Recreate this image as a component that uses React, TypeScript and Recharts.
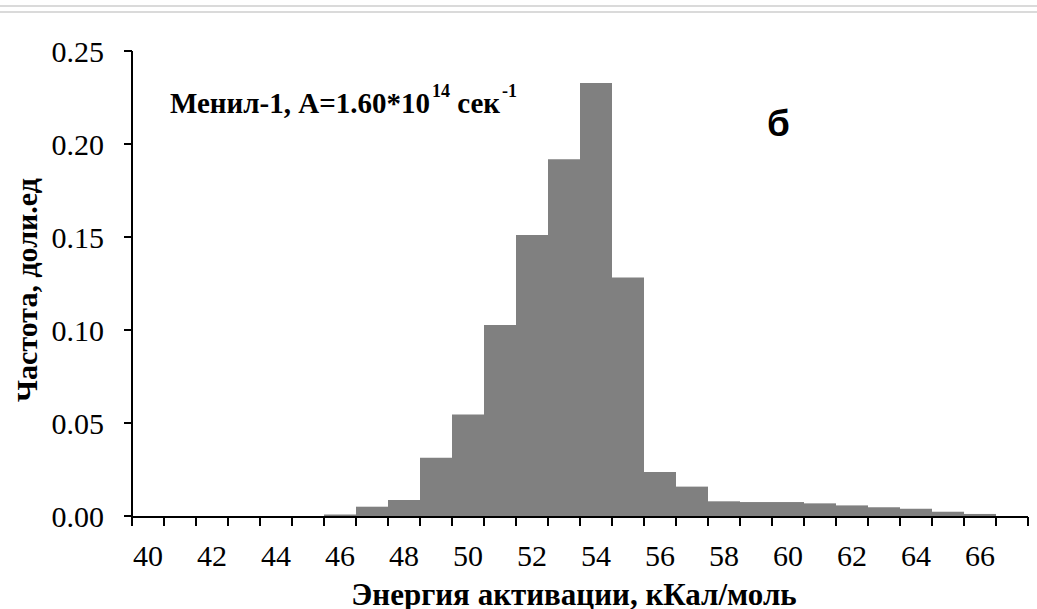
import React from 'react';
import { BarChart, Bar, XAxis, YAxis, ReferenceLine } from 'recharts';

// Energy bins (kcal/mol), one bar per bin
const energies = [40, 41, 42, 43, 44, 45, 46, 47, 48, 49, 50, 51, 52, 53, 54, 55, 56, 57, 58, 59, 60, 61, 62, 63, 64, 65, 66, 67];
// Frequency (fraction) per bin
const frequencies = [0, 0, 0, 0, 0, 0, 0.0008, 0.005, 0.0086, 0.0313, 0.0546, 0.1027, 0.1511, 0.1918, 0.2328, 0.1282, 0.0236, 0.0158, 0.0079, 0.0075, 0.0075, 0.0068, 0.0057, 0.0047, 0.0039, 0.0023, 0.0011, 0];
// Bin edges where the axis tick marks sit
const binEdges = [39.5, 40.5, 41.5, 42.5, 43.5, 44.5, 45.5, 46.5, 47.5, 48.5, 49.5, 50.5, 51.5, 52.5, 53.5, 54.5, 55.5, 56.5, 57.5, 58.5, 59.5, 60.5, 61.5, 62.5, 63.5, 64.5, 65.5, 66.5, 67.5];
const yTicks = [0, 0.05, 0.1, 0.15, 0.2, 0.25];

const data = energies.map((e, i) => ({ e, f: frequencies[i] }));

const serif = '"Liberation Serif", "Times New Roman", serif';

export default function App() {
  return (
    <div style={{ position: 'absolute', left: 0, top: 0, width: 1037, height: 609, background: '#fff', overflow: 'hidden' }}>
      <div style={{ position: 'absolute', left: 0, top: 5, width: 1037, height: 2, background: '#dadada' }} />
      <div style={{ position: 'absolute', left: 0, top: 11, width: 1037, height: 2, background: '#dadada' }} />
      <BarChart
        width={1037}
        height={609}
        data={data}
        margin={{ top: 51, right: 9, left: 32, bottom: 82 }}
        barCategoryGap={0}
        barGap={0}
      >
        <XAxis
          xAxisId="edges"
          dataKey="e"
          type="number"
          domain={[39.5, 67.5]}
          ticks={binEdges}
          interval={0}
          allowDataOverflow
          tickFormatter={() => ''}
          tickSize={9}
          height={10}
          axisLine={{ stroke: '#000', strokeWidth: 2 }}
          tickLine={{ stroke: '#000', strokeWidth: 2 }}
        />
        <XAxis
          xAxisId="cat"
          dataKey="e"
          type="category"
          interval={1}
          height={1}
          axisLine={false}
          tickLine={false}
          tickSize={0}
          tickMargin={29}
          tick={{ fill: '#000', fontSize: 30, fontFamily: serif }}
        />
        <YAxis
          domain={[0, 0.25]}
          ticks={yTicks}
          allowDataOverflow
          width={100}
          tickSize={8}
          tickMargin={20}
          tickFormatter={(v: number) => v.toFixed(2)}
          axisLine={{ stroke: '#000', strokeWidth: 2 }}
          tickLine={{ stroke: '#000', strokeWidth: 2 }}
          tick={{ fill: '#000', fontSize: 30, fontFamily: serif }}
        />
        <Bar xAxisId="cat" dataKey="f" fill="#808080" isAnimationActive={false} />
        <ReferenceLine xAxisId="cat" x={energies[0]} position="start" stroke="#000" strokeWidth={2} isFront />
      </BarChart>
      <div
        style={{
          position: 'absolute', left: 574, top: 579, transform: 'translateX(-50%)',
          fontFamily: serif, fontWeight: 'bold', fontSize: 31, lineHeight: 1, whiteSpace: 'nowrap', color: '#000',
        }}
      >
        Энергия активации, кКал/моль
      </div>
      <div
        style={{
          position: 'absolute', left: 27, top: 290, transform: 'translate(-50%, -50%) rotate(-90deg)',
          fontFamily: serif, fontWeight: 'bold', fontSize: 30, lineHeight: 1, whiteSpace: 'nowrap', color: '#000',
        }}
      >
        Частота, доли.ед
      </div>
      <div
        style={{
          position: 'absolute', left: 170, top: 89, fontFamily: serif, fontWeight: 'bold',
          fontSize: 29, lineHeight: '29px', whiteSpace: 'nowrap', color: '#000',
        }}
      >
        Менил-1, A=1.60*10<span style={{ fontSize: 18, position: 'relative', top: -16, marginLeft: 2 }}>14</span> сек<span style={{ fontSize: 18, position: 'relative', top: -16, marginLeft: 2 }}>-1</span>
      </div>
      <div
        style={{
          position: 'absolute', left: 767, top: 105, fontFamily: '"Liberation Sans", Arial, sans-serif',
          fontWeight: 'bold', fontSize: 37, color: '#000', lineHeight: 1,
        }}
      >
        б
      </div>
    </div>
  );
}
